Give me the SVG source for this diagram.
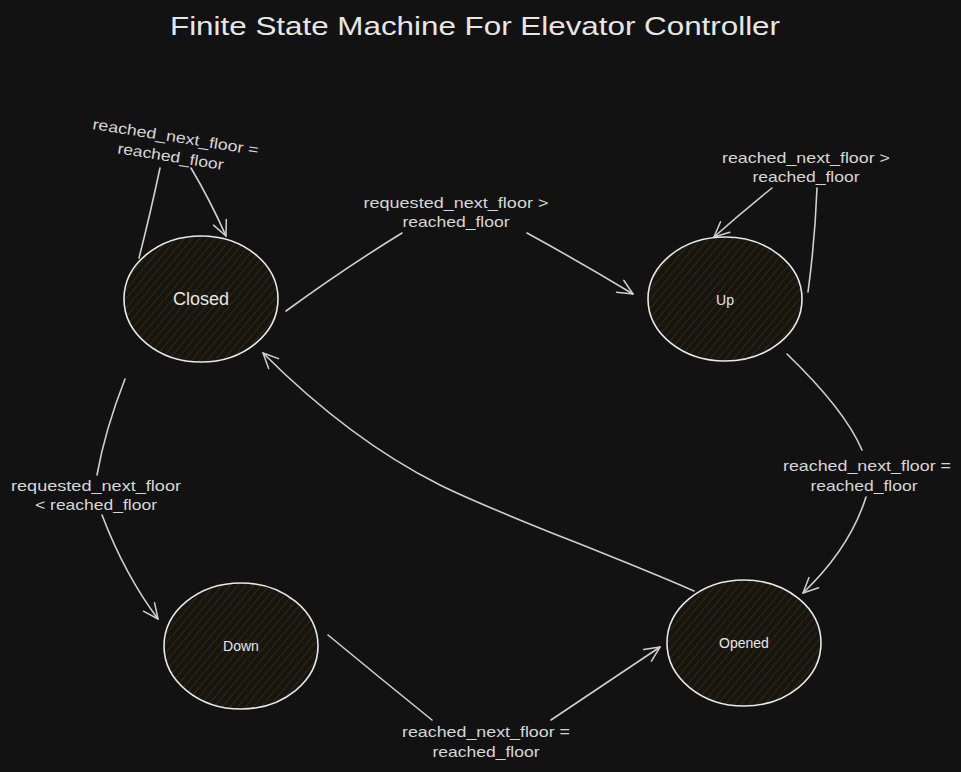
<svg xmlns="http://www.w3.org/2000/svg" width="961" height="772" viewBox="0 0 961 772">
<defs>
<pattern id="hatch" width="6" height="6" patternUnits="userSpaceOnUse" patternTransform="rotate(40)">
<rect width="6" height="6" fill="#17150f"/>
<line x1="0" y1="0" x2="0" y2="6" stroke="#3a2e12" stroke-width="1.6"/>
</pattern>
<marker id="arr" markerWidth="20" markerHeight="20" refX="16" refY="8" orient="auto" markerUnits="userSpaceOnUse">
<path d="M1,1 L16,8 L1,15" fill="none" stroke="#cfcfcf" stroke-width="1.5" stroke-linecap="round" stroke-linejoin="round"/>
</marker>
</defs>
<style>
.node ellipse{fill:url(#hatch);stroke:#e8e8e8;stroke-width:1.6}
.nl{font-family:"Liberation Sans","DejaVu Sans",sans-serif;fill:#e6e6e6;text-anchor:middle}
.lbl{font-family:"Liberation Sans","DejaVu Sans",sans-serif;font-size:15px;fill:#d6d6d6;text-anchor:middle}
.edge path{fill:none;stroke:#cfcfcf;stroke-width:1.6;stroke-linecap:round}
</style>
<rect width="961" height="772" fill="#121212"/>
<text x="475" y="35" class="nl" font-size="26" textLength="610" lengthAdjust="spacingAndGlyphs">Finite State Machine For Elevator Controller</text>

<g id="connectors" class="edge">
<path d="M160,168 Q150,215 139,258"/>
<path d="M191,168 Q210,200 226,236" marker-end="url(#arr)"/>
<path d="M286,311 Q345,268 402,233"/>
<path d="M527,233 Q580,262 633,294" marker-end="url(#arr)"/>
<path d="M772,188 Q742,212 714,237" marker-end="url(#arr)"/>
<path d="M817,188 Q815,240 808,292"/>
<path d="M787,354 Q845,410 862,450"/>
<path d="M866,497 Q850,548 803,593" marker-end="url(#arr)"/>
<path d="M694,591 C600,550 500,515 440,485 S320,410 263,353" marker-end="url(#arr)"/>
<path d="M125,379 Q105,430 97,475"/>
<path d="M102,515 Q125,575 158,619" marker-end="url(#arr)"/>
<path d="M328,635 Q380,678 432,720"/>
<path d="M551,720 Q608,682 660,647" marker-end="url(#arr)"/>

<g transform="rotate(9,174,148)">
<text x="174" y="142" class="lbl" textLength="168" lengthAdjust="spacingAndGlyphs">reached_next_floor =</text>
<text x="172" y="162" class="lbl" textLength="107" lengthAdjust="spacingAndGlyphs">reached_floor</text>
</g>
<text x="456" y="208" class="lbl" textLength="185" lengthAdjust="spacingAndGlyphs">requested_next_floor &gt;</text>
<text x="456" y="227" class="lbl" textLength="107" lengthAdjust="spacingAndGlyphs">reached_floor</text>
<text x="806" y="163" class="lbl" textLength="168" lengthAdjust="spacingAndGlyphs">reached_next_floor &gt;</text>
<text x="806" y="182" class="lbl" textLength="107" lengthAdjust="spacingAndGlyphs">reached_floor</text>
<text x="867" y="471" class="lbl" textLength="168" lengthAdjust="spacingAndGlyphs">reached_next_floor =</text>
<text x="864" y="491" class="lbl" textLength="107" lengthAdjust="spacingAndGlyphs">reached_floor</text>
<text x="96" y="491" class="lbl" textLength="170" lengthAdjust="spacingAndGlyphs">requested_next_floor</text>
<text x="96" y="510" class="lbl" textLength="122" lengthAdjust="spacingAndGlyphs">&lt; reached_floor</text>
<text x="486" y="737" class="lbl" textLength="168" lengthAdjust="spacingAndGlyphs">reached_next_floor =</text>
<text x="486" y="757" class="lbl" textLength="107" lengthAdjust="spacingAndGlyphs">reached_floor</text>
</g>

<g id="closed" class="node">
<ellipse cx="201" cy="299" rx="77" ry="63"/>
<text x="201" y="305" class="nl" font-size="18">Closed</text>
</g>
<g id="up" class="node">
<ellipse cx="725" cy="299" rx="77" ry="62"/>
<text x="725" y="305" class="nl" font-size="14">Up</text>
</g>
<g id="down" class="node">
<ellipse cx="241" cy="646" rx="77" ry="63"/>
<text x="241" y="651" class="nl" font-size="14">Down</text>
</g>
<g id="opened" class="node">
<ellipse cx="744" cy="643" rx="77" ry="63"/>
<text x="744" y="648" class="nl" font-size="14">Opened</text>
</g>
</svg>
